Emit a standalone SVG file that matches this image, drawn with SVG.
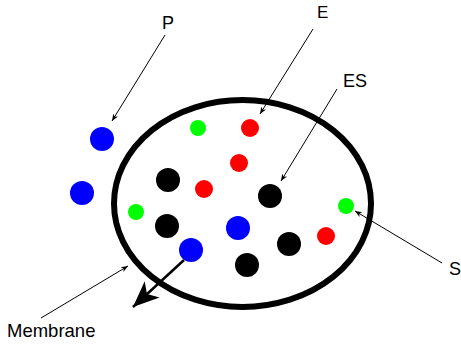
<svg xmlns="http://www.w3.org/2000/svg" width="461" height="346" viewBox="0 0 461 346">
<style>
text{font-family:"Liberation Sans",Arial,sans-serif;font-size:18px;fill:#000}
.thin{stroke:#000;stroke-width:1;fill:none}
.blue{fill:#0000ff}.red{fill:#ff0000}.green{fill:#00ff00}.black{fill:#000}
</style>
<defs>
<marker id="a" viewBox="0 0 10 10" refX="10" refY="5" markerWidth="7" markerHeight="7" markerUnits="userSpaceOnUse" orient="auto"><path d="M0,1 L10,5 L0,9 L3,5 Z" fill="#000"/></marker>
<marker id="b" viewBox="0 0 26 22" refX="26" refY="11" markerWidth="26" markerHeight="22" markerUnits="userSpaceOnUse" orient="auto"><path d="M0,0 L26,11 L0,22 L7,11 Z" fill="#000"/></marker>
</defs>
<g id="membrane"><ellipse cx="242.5" cy="203.5" rx="128.5" ry="103.5" fill="none" stroke="#000" stroke-width="6"/></g>
<g id="molecules">
<circle class="blue" cx="102" cy="139" r="12"/>
<circle class="blue" cx="82" cy="193" r="12"/>
<circle class="green" cx="198" cy="128" r="8"/>
<circle class="red" cx="250" cy="128" r="9"/>
<circle class="red" cx="239" cy="163" r="9"/>
<circle class="black" cx="168" cy="180" r="12"/>
<circle class="red" cx="204" cy="189" r="9"/>
<circle class="black" cx="270" cy="196" r="12"/>
<circle class="green" cx="346" cy="206" r="8"/>
<circle class="green" cx="136" cy="212" r="8"/>
<circle class="black" cx="167" cy="226" r="12"/>
<circle class="blue" cx="238" cy="228" r="12"/>
<circle class="blue" cx="191" cy="250" r="12"/>
<circle class="black" cx="289" cy="244" r="12"/>
<circle class="red" cx="326" cy="236" r="9"/>
<circle class="black" cx="247" cy="265" r="12"/>
</g>
<g id="connectors">
<line class="thin" x1="165" y1="35" x2="112" y2="121" marker-end="url(#a)"/>
<line class="thin" x1="313" y1="29" x2="260" y2="114" marker-end="url(#a)"/>
<line class="thin" x1="337" y1="89" x2="281" y2="181" marker-end="url(#a)"/>
<line class="thin" x1="442" y1="263" x2="355" y2="211" marker-end="url(#a)"/>
<line class="thin" x1="41" y1="318" x2="128" y2="266" marker-end="url(#a)"/>
<line x1="184" y1="260" x2="133" y2="307" stroke="#000" stroke-width="2.5" marker-end="url(#b)"/>
</g>
<g id="labels">
<text x="162" y="29">P</text>
<text x="317" y="18" style="font-size:17px">E</text>
<text x="343" y="87">ES</text>
<text x="449" y="275">S</text>
<text x="7" y="337" style="font-size:18.5px">Membrane</text>
</g>
</svg>
